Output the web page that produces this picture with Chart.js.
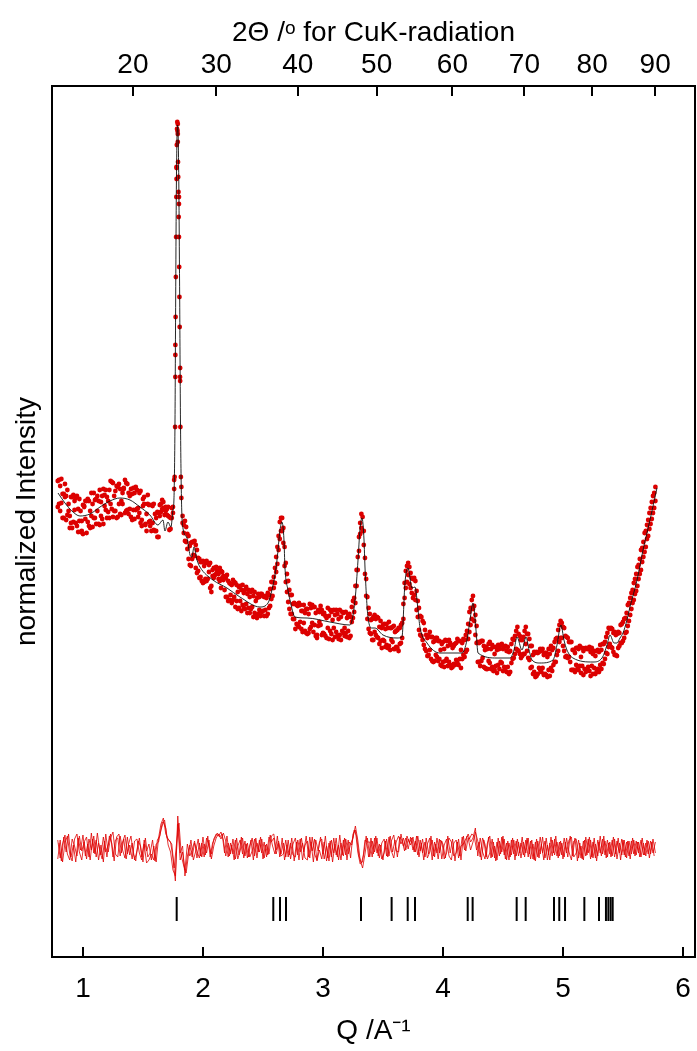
<!DOCTYPE html>
<html><head><meta charset="utf-8">
<script src="https://cdn.jsdelivr.net/npm/chart.js@4.4.1/dist/chart.umd.min.js"></script>
<style>html,body{margin:0;padding:0;background:#fff}canvas{display:block}</style>
</head><body>
<canvas id="c" width="697" height="1051"></canvas>
<script>
// ---- axis tick labels ----
const qTicks = [1, 2, 3, 4, 5, 6];
const twoThetaTicks = [20, 30, 40, 50, 60, 70, 80, 90];
const WAVELENGTH = 1.5406; // CuK-alpha, Angstrom

// ---- observed pattern (Q / A^-1, intensity a.u.) ----
// grid A, two readings per step
const obsQ = [
0.79,0.81,0.83,0.85,0.87,0.89,0.91,0.93,0.95,0.97,
0.99,1.01,1.03,1.05,1.07,1.09,1.11,1.13,1.15,1.17,
1.19,1.21,1.23,1.25,1.27,1.29,1.31,1.33,1.35,1.37,
1.39,1.41,1.43,1.45,1.47,1.49,1.51,1.53,1.55,1.57,
1.59,1.61,1.63,1.65,1.67,1.69,1.71,1.73,1.75,1.77,
1.79,1.81,1.83,1.85,1.87,1.89,1.91,1.93,1.95,1.97,
1.99,2.01,2.03,2.05,2.07,2.09,2.11,2.13,2.15,2.17,
2.19,2.21,2.23,2.25,2.27,2.29,2.31,2.33,2.35,2.37,
2.39,2.41,2.43,2.45,2.47,2.49,2.51,2.53,2.55,2.57,
2.59,2.61,2.63,2.65,2.67,2.69,2.71,2.73,2.75,2.77,
2.79,2.81,2.83,2.85,2.87,2.89,2.91,2.93,2.95,2.97,
2.99,3.01,3.03,3.05,3.07,3.09,3.11,3.13,3.15,3.17,
3.19,3.21,3.23,3.25,3.27,3.29,3.31,3.33,3.35,3.37,
3.39,3.41,3.43,3.45,3.47,3.49,3.51,3.53,3.55,3.57,
3.59,3.61,3.63,3.65,3.67,3.69,3.71,3.73,3.75,3.77,
3.79,3.81,3.83,3.85,3.87,3.89,3.91,3.93,3.95,3.97,
3.99,4.01,4.03,4.05,4.07,4.09,4.11,4.13,4.15,4.17,
4.19,4.21,4.23,4.25,4.27,4.29,4.31,4.33,4.35,4.37,
4.39,4.41,4.43,4.45,4.47,4.49,4.51,4.53,4.55,4.57,
4.59,4.61,4.63,4.65,4.67,4.69,4.71,4.73,4.75,4.77,
4.79,4.81,4.83,4.85,4.87,4.89,4.91,4.93,4.95,4.97,
4.99,5.01,5.03,5.05,5.07,5.09,5.11,5.13,5.15,5.17,
5.19,5.21,5.23,5.25,5.27,5.29,5.31,5.33,5.35,5.37,
5.39,5.41,5.43,5.45,5.47,5.49,5.51,5.53,5.55,5.57,
5.59,5.61,5.63,5.65,5.67,5.69,5.71,5.73,5.75,5.77];
const obsI1 = [
476,446,463,473,442,429,460,447,431,458,
436,451,424,456,441,464,433,456,441,468,
447,456,476,440,466,470,443,464,477,447,
461,437,464,467,444,431,460,443,452,426,
453,426,444,453,455,450,450,439,450,602,
833,576,441,436,408,411,415,401,407,379,
395,375,396,385,371,389,390,383,386,377,
360,376,362,377,350,365,371,352,367,344,
360,367,344,359,347,363,341,359,349,375,
380,385,421,426,429,375,376,343,353,353,
332,352,325,344,348,328,352,332,322,345,
347,323,339,318,345,329,347,318,340,324,
345,326,340,339,371,400,423,440,383,360,
324,338,325,340,313,329,333,312,335,317,
308,326,329,314,353,369,394,369,378,357,
356,322,336,308,319,325,296,316,300,316,
291,308,316,295,289,311,314,292,307,302,
322,318,349,348,342,295,315,299,289,308,
315,290,303,284,308,294,310,285,305,294,
317,308,323,299,320,313,323,289,302,280,
304,287,308,283,300,281,307,295,319,315,
334,306,320,300,287,307,309,287,300,282,
309,290,305,283,301,288,312,294,315,303,
328,309,325,301,324,314,338,325,354,348,
374,366,392,387,415,410,437,433,461,456];
const obsI2 = [
450,471,439,460,467,441,429,456,461,436,
426,450,456,431,464,439,458,433,455,433,
467,445,453,474,446,440,468,453,444,473,
448,463,438,448,464,437,453,426,435,452,
427,439,420,445,449,446,441,428,444,612,
823,589,434,416,423,392,398,416,384,398,
376,391,376,392,365,379,383,378,369,381,
379,356,373,357,374,348,356,372,348,363,
344,350,365,339,360,345,360,341,362,358,
369,400,407,439,414,394,355,362,338,328,
351,335,346,326,323,353,334,350,319,335,
322,344,319,341,323,347,325,338,317,344,
324,342,321,356,354,387,434,426,399,338,
343,317,342,320,330,309,316,333,311,329,
331,310,306,332,338,386,382,384,359,376,
340,341,317,327,301,307,320,296,319,298,
313,290,298,317,312,293,297,316,289,318,
305,333,332,361,322,315,291,316,307,288,
294,312,287,307,288,313,290,306,283,313,
299,326,306,317,303,330,299,311,283,304,
283,308,289,304,280,303,286,315,302,332,
319,329,301,315,315,287,292,308,284,306,
285,308,281,303,283,307,292,313,298,324,
313,328,302,323,311,333,319,344,336,364,
357,383,378,407,400,426,421,449,444,470];
// grid B (between the grid A steps), two readings per step
const obsQb = [
0.80,0.82,0.84,0.86,0.88,0.90,0.92,0.94,0.96,0.98,
1.00,1.02,1.04,1.06,1.08,1.10,1.12,1.14,1.16,1.18,
1.20,1.22,1.24,1.26,1.28,1.30,1.32,1.34,1.36,1.38,
1.40,1.42,1.44,1.46,1.48,1.50,1.52,1.54,1.56,1.58,
1.60,1.62,1.64,1.66,1.68,1.70,1.72,1.74,1.76,1.78,
1.80,1.82,1.84,1.86,1.88,1.90,1.92,1.94,1.96,1.98,
2.00,2.02,2.04,2.06,2.08,2.10,2.12,2.14,2.16,2.18,
2.20,2.22,2.24,2.26,2.28,2.30,2.32,2.34,2.36,2.38,
2.40,2.42,2.44,2.46,2.48,2.50,2.52,2.54,2.56,2.58,
2.60,2.62,2.64,2.66,2.68,2.70,2.72,2.74,2.76,2.78,
2.80,2.82,2.84,2.86,2.88,2.90,2.92,2.94,2.96,2.98,
3.00,3.02,3.04,3.06,3.08,3.10,3.12,3.14,3.16,3.18,
3.20,3.22,3.24,3.26,3.28,3.30,3.32,3.34,3.36,3.38,
3.40,3.42,3.44,3.46,3.48,3.50,3.52,3.54,3.56,3.58,
3.60,3.62,3.64,3.66,3.68,3.70,3.72,3.74,3.76,3.78,
3.80,3.82,3.84,3.86,3.88,3.90,3.92,3.94,3.96,3.98,
4.00,4.02,4.04,4.06,4.08,4.10,4.12,4.14,4.16,4.18,
4.20,4.22,4.24,4.26,4.28,4.30,4.32,4.34,4.36,4.38,
4.40,4.42,4.44,4.46,4.48,4.50,4.52,4.54,4.56,4.58,
4.60,4.62,4.64,4.66,4.68,4.70,4.72,4.74,4.76,4.78,
4.80,4.82,4.84,4.86,4.88,4.90,4.92,4.94,4.96,4.98,
5.00,5.02,5.04,5.06,5.08,5.10,5.12,5.14,5.16,5.18,
5.20,5.22,5.24,5.26,5.28,5.30,5.32,5.34,5.36,5.38,
5.40,5.42,5.44,5.46,5.48,5.50,5.52,5.54,5.56,5.58,
5.60,5.62,5.64,5.66,5.68,5.70,5.72,5.74,5.76];
const obsI3 = [
477,454,439,461,453,434,462,434,448,425,
452,438,458,429,453,439,461,432,461,451,
439,467,448,461,439,473,456,469,446,464,
440,469,447,440,466,451,432,453,436,451,
426,445,452,457,442,442,440,449,477,778,
760,459,432,430,398,414,402,412,386,395,
374,394,378,394,387,389,385,389,379,367,
382,357,372,360,372,349,367,349,370,349,
365,340,356,343,363,346,361,343,368,375,
374,410,418,439,391,383,348,362,338,352,
330,346,352,324,343,349,325,344,331,351,
324,341,349,326,337,320,343,322,345,329,
339,319,350,359,371,420,429,426,361,349,
337,317,338,319,336,317,310,329,307,330,
325,309,329,319,374,375,390,364,379,347,
349,321,334,306,321,298,315,319,296,307,
315,296,291,314,309,292,318,298,314,300,
326,325,357,336,331,295,316,290,310,296,
288,310,291,312,295,286,311,290,306,318,
303,330,303,317,303,323,297,311,285,305,
289,306,282,304,287,311,292,318,306,336,
311,321,299,315,287,304,288,311,291,308,
287,310,291,306,285,305,288,313,304,329,
310,324,302,325,314,335,324,352,342,367,
363,390,383,409,405,432,428,455,449];
const obsI4 = [
453,478,463,437,446,460,435,459,425,446,
423,456,435,446,430,457,446,467,438,462,
460,439,475,446,471,453,442,468,474,443,
468,447,470,449,434,458,433,462,431,434,
443,420,441,448,447,448,427,439,468,789,
753,470,424,415,421,391,415,389,399,380,
396,378,394,369,381,382,386,376,385,379,
360,374,354,375,356,370,346,364,353,367,
348,361,341,363,341,361,347,364,351,361,
389,393,435,426,410,365,367,343,354,333,
354,328,334,348,324,330,350,321,347,332,
343,321,329,347,317,342,321,347,326,321,
320,343,335,345,387,406,443,412,378,328,
323,340,322,339,316,332,328,309,329,315,
308,327,313,334,359,391,373,379,362,366,
327,340,312,322,302,320,295,302,316,292,
295,317,311,292,290,313,294,316,298,317,
307,345,338,351,314,314,296,311,288,313,
308,286,310,292,312,308,289,310,285,298,
321,307,321,301,326,306,318,290,305,281,
305,285,302,282,308,289,309,295,327,319,
330,300,319,295,307,285,309,291,309,288,
308,286,309,289,306,285,307,293,320,310,
329,305,322,309,332,316,339,331,359,354,
378,371,398,395,424,418,444,438,464];
// finer readings on the flanks of the strongest reflection
const peakQ = [1.764,1.768,1.770,1.772,1.774,1.776,1.778,1.780,1.782,1.784,1.786,1.788,1.790,1.792,1.794,1.796,1.798,1.800,1.802,1.804,1.806,1.809,1.812,1.816];
const peakI = [480,530,580,640,680,720,760,790,812,828,835,826,815,795,780,765,740,720,690,660,630,580,530,480];

// ---- calculated (fitted) profile ----
const calcQ = [0.792,0.850,0.908,0.975,1.058,1.142,1.225,1.308,1.392,1.475,1.558,1.625,1.667,1.683,1.708,1.733,1.750,1.758,1.767,1.7725,1.7775,1.783,1.788,1.794,1.800,1.806,1.8125,1.821,1.833,1.867,1.892,1.908,1.925,1.950,1.975,2.083,2.200,2.308,2.475,2.542,2.575,2.600,2.617,2.642,2.658,2.675,2.683,2.708,2.725,2.767,2.867,3.058,3.225,3.267,3.292,3.308,3.325,3.342,3.350,3.375,3.408,3.433,3.500,3.617,3.658,3.683,3.708,3.742,3.767,3.792,3.808,3.867,3.975,4.158,4.200,4.225,4.250,4.275,4.292,4.450,4.558,4.592,4.617,4.658,4.692,4.717,4.742,4.808,4.917,4.950,4.983,5.008,5.033,5.083,5.250,5.325,5.367,5.392,5.425,5.450,5.475,5.500,5.533,5.558,5.617,5.667,5.725,5.783];
const calcI = [464,454,446,441,443,450,456,459,457,450,442,432,437,426,435,430,447,457,537,657,757,817,832,817,757,657,537,457,429,419,402,400,410,397,390,377,369,360,350,354,367,382,397,427,435,417,390,367,357,340,339,335,332,357,397,427,439,417,390,340,329,329,322,319,320,374,389,369,370,347,330,314,304,304,317,337,354,327,304,299,299,307,320,307,320,307,297,294,297,312,332,317,307,299,295,299,312,322,314,314,319,324,337,350,377,407,437,469];

// ---- difference (obs - calc) ----
const diffA = [
8,-10,4,13,-6,-12,9,2,-8,12,
-3,6,-11,9,-2,12,-9,5,-7,11,
-4,3,14,-9,8,10,-8,6,13,-6,
3,-11,7,9,-5,-12,8,-3,4,-12,
2,-14,10,24,30,14,9,6,-10,-33,
32,-5,2,-28,-8,3,-9,5,-3,-10,
5,-9,10,2,-6,9,14,12,16,8,
-8,5,-6,9,-11,2,8,-6,7,-10,
3,10,-8,5,-4,9,-10,4,-6,12,
14,-2,7,-6,5,-9,8,-11,4,10,
-7,9,-12,3,7,-10,11,-6,-12,6,
9,-11,2,-13,8,-5,10,-12,5,-8,
9,-6,4,10,22,8,-12,-20,-6,10,
-9,7,-4,10,-10,5,9,-8,11,-3,
-10,6,12,4,10,-2,9,3,11,-4,
12,-3,9,-9,4,10,-12,6,-5,9,
-11,3,9,-8,-12,5,8,-10,2,4,
9,14,6,10,20,-8,10,-4,-11,5,
12,-9,2,-12,7,-4,9,-12,5,-7,
8,-8,6,-10,6,-5,10,-11,4,-13,
7,-6,11,-10,3,-12,8,-7,6,-8,
5,-9,10,-4,-12,7,9,-10,2,-12,
11,-5,8,-10,4,-8,12,-6,7,-9,
6,-8,9,-11,5,-7,8,-10,7,-6,
8,-7,6,-9,5,-8,7,-6,9,-5];
const diffB = [
-11,8,-14,5,12,-6,-13,9,14,-4,
-12,6,11,-9,15,-5,8,-12,3,-14,
14,-4,10,16,-6,-9,12,-2,-10,11,
-7,5,-12,-3,10,-9,4,-15,-12,-6,
-12,4,6,18,26,20,3,-4,-22,-28,
24,-12,-4,-22,4,-8,-2,7,-10,5,
-9,4,-5,8,-11,2,10,14,9,15,
7,-9,5,-6,8,-11,-3,10,-8,5,
-9,-3,9,-10,8,-5,6,-9,11,6,
10,-6,5,-8,-6,8,-9,5,-7,-9,
8,-4,5,-10,-12,11,-3,9,-13,-2,
-11,6,-13,5,-9,10,-7,3,-12,8,
-7,8,-10,14,18,-4,-16,-14,8,6,
6,-9,10,-5,4,-11,-5,9,-8,7,
13,-3,-4,14,2,10,-1,11,-2,7,
-7,8,-5,6,-10,-4,8,-9,10,-5,
7,-11,-5,10,6,-8,-5,9,-12,12,
-3,10,-2,6,16,7,-9,10,4,-11,
-5,9,-10,6,-8,11,-7,5,-12,8,
-6,7,-8,5,-7,8,-9,7,-11,6,
-9,11,-5,7,-12,5,-8,9,-8,6,
-7,10,-5,8,11,-9,-5,8,-10,7,
-8,9,-11,6,-10,8,-5,9,-7,8,
-6,8,-9,7,-5,9,-7,6,-8,7,
-6,7,-5,8,-7,5,-6,7,-5,6];
const diffC = [
5,-13,11,-4,14,-9,3,-14,10,-2,
13,-8,4,-12,9,-6,15,-3,-11,7,
-9,12,5,-13,11,14,-5,9,-11,4,
12,-6,-13,7,2,-14,10,-9,-5,8,
-13,8,12,25,28,10,7,4,-20,5,
25,-8,-18,-25,-6,8,-12,-3,9,-8,
11,-7,12,-9,5,10,15,11,14,-5,
12,-8,3,-12,10,-7,11,-10,4,-9,
8,-12,10,-4,11,-11,3,-7,13,2,
-6,12,-9,10,-12,3,-7,10,-13,6,
-12,10,-4,12,-9,6,-14,8,-3,11,
-6,12,-10,7,-14,4,-9,13,-7,10,
-12,6,3,18,12,-8,-15,-6,12,-9,
10,-6,12,-8,3,-12,7,-9,12,-4,
8,-9,11,7,-3,12,5,10,-4,12,
-9,5,-12,10,-6,12,-8,4,-11,8,
4,-10,12,-5,9,-13,6,-8,11,-2,
12,9,14,12,-2,6,-12,8,-9,11,
-10,6,-13,10,-6,12,-11,7,-9,10,
-12,9,-5,11,-9,10,-6,8,-12,9,
-10,4,-12,10,-7,11,-5,12,-10,7,
-11,6,-9,12,-8,10,-13,5,-11,8,
-7,11,-9,10,-13,6,-8,12,-10,5,
-9,11,-6,10,-12,8,-9,7,-11,10,
-8,6,-9,10,-7,8,-10,6,-8];

// ---- Bragg reflection positions (Q / A^-1) ----
const braggQ = [1.781,2.586,2.642,2.692,3.317,3.572,3.706,3.767,4.206,4.247,4.614,4.689,4.925,4.969,5.017,5.178,5.300,5.358,5.378,5.397,5.414];

// ---- drawing ----
const DIFF_BASE = 109;   // vertical offset of the difference curve
const BRAGG_Y = 48;      // vertical position of the reflection markers
const Q_MIN = 0.742, Q_MAX = 6.1;
const qOf = tt => 4 * Math.PI * Math.sin(tt / 2 * Math.PI / 180) / WAVELENGTH;
const pts = (xs, ys, off = 0) => xs.map((x, i) => ({x, y: ys[i] + off}));

Chart.defaults.font.family = "'Liberation Sans', Arial, Helvetica, sans-serif";
Chart.defaults.color = '#000';

const framePlugin = {
  id: 'frame',
  afterDraw(chart) {
    const {ctx, chartArea: a, scales} = chart;
    ctx.save();
    ctx.strokeStyle = '#000';
    ctx.lineWidth = 2;
    ctx.strokeRect(a.left, a.top, a.right - a.left, a.bottom - a.top);
    ctx.beginPath();
    scales.x.ticks.forEach(t => {
      const p = Math.round(scales.x.getPixelForValue(t.value));
      ctx.moveTo(p, a.bottom); ctx.lineTo(p, a.bottom - 10);
    });
    scales.x2.ticks.forEach(t => {
      const p = Math.round(scales.x2.getPixelForValue(t.value));
      ctx.moveTo(p, a.top); ctx.lineTo(p, a.top + 10);
    });
    ctx.stroke();
    ctx.restore();
  }
};

const font28 = {size: 28};
const diffStyle = {showLine: true, borderColor: 'rgba(222,0,0,0.8)', borderWidth: 1, pointRadius: 0, order: 2};
new Chart(document.getElementById('c'), {
  type: 'scatter',
  data: {
    datasets: [
      {label: 'calc', data: pts(calcQ, calcI), showLine: true, borderColor: 'rgba(15,15,15,0.9)',
       borderWidth: 1, pointRadius: 0, cubicInterpolationMode: 'monotone', order: 0},
      {label: 'obs', data: [...pts(obsQ, obsI1), ...pts(obsQ, obsI2), ...pts(obsQb, obsI3),
                            ...pts(obsQb, obsI4), ...pts(peakQ, peakI)],
       pointRadius: 2.4, pointBackgroundColor: '#dc0000', pointBorderWidth: 0, showLine: false, order: 1},
      {label: 'diffA', data: pts(obsQ, diffA, DIFF_BASE), ...diffStyle},
      {label: 'diffB', data: pts(obsQ, diffB, DIFF_BASE), ...diffStyle},
      {label: 'diffC', data: pts(obsQb, diffC, DIFF_BASE), ...diffStyle},
      {label: 'bragg', data: braggQ.map(q => ({x: q, y: BRAGG_Y})), showLine: false,
       pointStyle: 'line', pointRotation: 90, pointRadius: 12, pointBorderWidth: 2,
       pointBorderColor: '#000', pointBackgroundColor: '#000', order: 3}
    ]
  },
  options: {
    responsive: false, animation: false, devicePixelRatio: 1, events: [],
    layout: {autoPadding: false, padding: {left: 0, right: 2, top: 0, bottom: 0}},
    plugins: {legend: {display: false}, tooltip: {enabled: false}},
    scales: {
      x: {
        type: 'linear', position: 'bottom', min: Q_MIN, max: Q_MAX,
        afterBuildTicks: s => { s.ticks = qTicks.map(v => ({value: v})); },
        afterFit: s => { s.height = 94; s.paddingLeft = 0; s.paddingRight = 0; },
        grid: {display: false, drawTicks: false}, border: {display: false},
        ticks: {padding: 15, autoSkip: false, maxRotation: 0, font: font28, callback: v => String(v)},
        title: {display: true, text: 'Q /A⁻¹', font: font28, padding: {top: 0, bottom: 3}}
      },
      x2: {
        type: 'linear', position: 'top', min: Q_MIN, max: Q_MAX,
        afterBuildTicks: s => { s.ticks = twoThetaTicks.map(t => ({value: qOf(t)})); },
        afterFit: s => { s.height = 86; s.paddingLeft = 0; s.paddingRight = 0; },
        grid: {display: false, drawTicks: false}, border: {display: false},
        ticks: {padding: 4, autoSkip: false, maxRotation: 0, font: font28,
                callback: (v, i) => String(twoThetaTicks[i])},
        title: {display: true, text: '2Θ /ᵒ for CuK-radiation', font: font28, padding: {top: 16, bottom: 0}}
      },
      y: {
        min: 0, max: 871,
        afterFit: s => { s.width = 52; s.paddingTop = 0; s.paddingBottom = 0; },
        grid: {display: false, drawTicks: false}, border: {display: false},
        ticks: {display: false},
        title: {display: true, text: 'normalized Intensity', font: font28, padding: {top: 10, bottom: 0}}
      }
    }
  },
  plugins: [framePlugin]
});
</script>
</body></html>
